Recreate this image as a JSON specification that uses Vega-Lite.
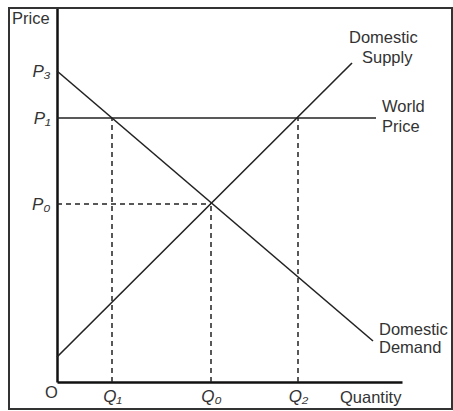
{
  "$schema": "https://vega.github.io/schema/vega-lite/v6.json",
  "width": 345,
  "height": 374,
  "autosize": {"type": "none"},
  "padding": {"left": 57, "top": 8, "right": 51, "bottom": 29},
  "background": "white",
  "config": {
    "view": {"stroke": null},
    "font": "Liberation Sans"
  },
  "datasets": {
    "frame": [{"x": -48, "x2": 395, "y": -27, "y2": 374}],
    "curves": [
      {"series": "Supply", "q": 0, "p": 25},
      {"series": "Supply", "q": 295, "p": 319},
      {"series": "Demand", "q": 0, "p": 311},
      {"series": "Demand", "q": 316, "p": 41},
      {"series": "World", "q": 0, "p": 264},
      {"series": "World", "q": 319, "p": 264}
    ],
    "guides": [
      {"series": "P0", "q": 0, "p": 178},
      {"series": "P0", "q": 154, "p": 178},
      {"series": "Q0", "q": 154, "p": 0},
      {"series": "Q0", "q": 154, "p": 178},
      {"series": "Q1", "q": 55, "p": 0},
      {"series": "Q1", "q": 55, "p": 264},
      {"series": "Q2", "q": 241, "p": 0},
      {"series": "Q2", "q": 241, "p": 264}
    ],
    "labels": [
      {"q": -45, "p": 363, "text": "Price"},
      {"q": 292, "p": 344, "text": "Domestic"},
      {"q": 305, "p": 324, "text": "Supply"},
      {"q": 325, "p": 275, "text": "World"},
      {"q": 325, "p": 255, "text": "Price"},
      {"q": 322, "p": 52, "text": "Domestic"},
      {"q": 322, "p": 34, "text": "Demand"},
      {"q": 283, "p": -16, "text": "Quantity"},
      {"q": -12, "p": -11, "text": "O"}
    ]
  },
  "layer": [
    {
      "data": {"name": "frame"},
      "mark": {"type": "rect", "filled": false, "stroke": "#333", "strokeWidth": 2, "clip": false},
      "encoding": {
        "x": {
          "field": "x", "type": "quantitative",
          "scale": {"domain": [0, 345], "nice": false, "zero": false},
          "axis": {
            "values": [55, 154, 241],
            "labelExpr": "datum.value == 55 ? 'Q₁' : datum.value == 154 ? 'Q₀' : 'Q₂'",
            "title": null, "ticks": false, "grid": false,
            "domainColor": "#111", "domainWidth": 2.5,
            "labelFont": "Liberation Sans", "labelFontSize": 17, "labelFontStyle": "italic",
            "labelColor": "#333", "labelPadding": 6, "labelFlush": false
          }
        },
        "x2": {"field": "x2"},
        "y": {
          "field": "y", "type": "quantitative",
          "scale": {"domain": [0, 374], "nice": false, "zero": false},
          "axis": {
            "values": [178, 264, 311],
            "labelExpr": "datum.value == 311 ? 'P₃' : datum.value == 264 ? 'P₁' : 'P₀'",
            "title": null, "ticks": false, "grid": false,
            "domainColor": "#111", "domainWidth": 2.5,
            "labelFont": "Liberation Sans", "labelFontSize": 17, "labelFontStyle": "italic",
            "labelColor": "#333", "labelPadding": 7, "labelFlush": false
          }
        },
        "y2": {"field": "y2"}
      }
    },
    {
      "data": {"name": "guides"},
      "mark": {"type": "line", "color": "#222", "strokeWidth": 1.5, "strokeDash": [5, 4]},
      "encoding": {
        "x": {"field": "q", "type": "quantitative"},
        "y": {"field": "p", "type": "quantitative"},
        "detail": {"field": "series"}
      }
    },
    {
      "data": {"name": "curves"},
      "mark": {"type": "line", "color": "#222", "strokeWidth": 1.6},
      "encoding": {
        "x": {"field": "q", "type": "quantitative"},
        "y": {"field": "p", "type": "quantitative"},
        "detail": {"field": "series"}
      }
    },
    {
      "data": {"name": "labels"},
      "mark": {"type": "text", "align": "left", "baseline": "middle", "fontSize": 16.5, "color": "#333", "font": "Liberation Sans", "clip": false},
      "encoding": {
        "x": {"field": "q", "type": "quantitative"},
        "y": {"field": "p", "type": "quantitative"},
        "text": {"field": "text"}
      }
    }
  ]
}
